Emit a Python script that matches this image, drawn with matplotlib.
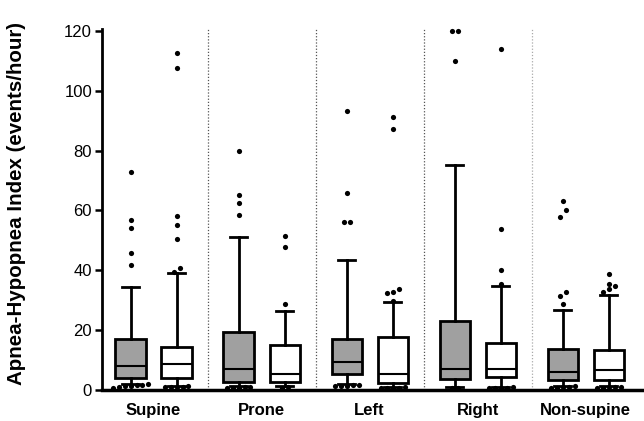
import matplotlib
matplotlib.use("Agg")
import matplotlib.pyplot as plt
from matplotlib import font_manager

categories = ["Supine", "Prone", "Left", "Right", "Non-supine"]

# gray series (first box of each group)
gray_q1 = [4.1, 2.8, 5.2, 3.7, 3.3]
gray_med = [8.0, 7.0, 9.4, 7.0, 5.9]
gray_q3 = [17.0, 19.4, 17.1, 23.2, 13.8]
gray_lo = [2.0, 1.2, 2.0, 1.0, 1.5]
gray_hi = [34.4, 51.2, 43.3, 75.1, 26.7]
gray_fliers = [
    [72.8, 56.9, 54.3, 45.9, 41.8, 1.9, 1.6, 1.3, 1.0, 0.8, 1.2, 1.8],
    [80.0, 65.3, 62.6, 58.6, 0.9, 0.7, 0.6, 0.8, 0.9],
    [93.2, 65.7, 56.1, 56.0, 1.8, 1.5, 1.2, 1.4, 1.7],
    [119.9, 119.8, 109.9, 0.8, 0.6],
    [63.0, 60.0, 57.8, 32.7, 31.4, 28.6, 1.0, 0.8, 0.7, 0.9, 1.2],
]

# white series (second box of each group)
white_q1 = [4.1, 2.8, 2.2, 4.4, 3.3]
white_med = [8.7, 5.2, 5.2, 7.0, 6.6]
white_q3 = [14.4, 15.1, 17.8, 15.8, 13.3]
white_lo = [1.5, 1.5, 1.0, 1.0, 1.5]
white_hi = [39.1, 26.3, 29.3, 34.8, 31.8]
white_fliers = [
    [112.7, 107.6, 58.1, 55.0, 50.3, 40.8, 39.4, 1.1, 1.0, 0.9, 1.2, 1.0],
    [51.3, 47.9, 28.6, 1.0, 0.8],
    [91.1, 87.1, 33.8, 32.6, 32.5, 29.6, 0.8, 0.7, 0.9, 0.6, 0.8],
    [114.1, 53.8, 40.1, 35.4, 0.8, 0.7, 0.9, 0.6, 0.8],
    [38.8, 35.3, 34.9, 33.9, 32.6, 1.0, 0.8, 0.7, 0.9, 1.1],
]

yticks = [0, 20, 40, 60, 80, 100, 120]
ylabel = "Apnea-Hypopnea Index (events/hour)"

names = {f.name for f in font_manager.fontManager.ttflist}
narrow = "Liberation Sans Narrow" if "Liberation Sans Narrow" in names else "Liberation Sans"

fig = plt.figure(figsize=(6.44, 4.21), dpi=100)
ax = fig.add_axes([0.158, 0.0736, 0.842, 0.858])

offset = 0.213
width = 0.28

def stats(q1, med, q3, lo, hi):
    return [dict(q1=a, med=b, q3=c, whislo=d, whishi=e, fliers=[])
            for a, b, c, d, e in zip(q1, med, q3, lo, hi)]

def swarm(center, vals, thresh=2.6, step=0.055):
    v = sorted(vals)
    clusters = []
    for x in v:
        if clusters and x - clusters[-1][0] < thresh:
            clusters[-1].append(x)
        else:
            clusters.append([x])
    xs, ys = [], []
    for c in clusters:
        n = len(c)
        for k, y in enumerate(c):
            xs.append(center + (k - (n - 1) / 2) * step)
            ys.append(y)
    return xs, ys

for pos_off, st, fill, fl in [
    (-offset, stats(gray_q1, gray_med, gray_q3, gray_lo, gray_hi), "#a0a0a0", gray_fliers),
    (offset, stats(white_q1, white_med, white_q3, white_lo, white_hi), "white", white_fliers),
]:
    positions = [i + pos_off for i in range(len(categories))]
    ax.bxp(st, positions=positions, widths=width, patch_artist=True,
           showfliers=False,
           boxprops=dict(facecolor=fill, edgecolor="black", linewidth=2),
           medianprops=dict(color="black", linewidth=1.5),
           whiskerprops=dict(color="black", linewidth=2),
           capprops=dict(color="black", linewidth=2),
           capwidths=width * 0.55, manage_ticks=False)
    for p, f in zip(positions, fl):
        xs, ys = swarm(p, f)
        ax.scatter(xs, ys, s=14, color="black", zorder=5, clip_on=False, linewidths=0)

for i in range(len(categories) - 1):
    ax.plot([i + 0.5, i + 0.5], [0, 120.5], linestyle=(0, (1, 1.5)),
            color="#555555" if i < 3 else "#aaaaaa", linewidth=0.9, zorder=0)

ax.set_xlim(-0.48, 4.54)
ax.set_ylim(0, 120.7)
ax.set_yticks(yticks)
ax.set_yticklabels([str(t) for t in yticks], fontfamily=narrow, fontsize=12)
ax.set_xticks(range(len(categories)))
ax.set_xticklabels(categories, fontfamily="Liberation Sans", fontweight="bold", fontsize=12)
ax.tick_params(axis="x", length=0, pad=9)
ax.tick_params(axis="y", length=5, width=1.8, pad=2)
for s in ["top", "right"]:
    ax.spines[s].set_visible(False)
ax.spines["left"].set_linewidth(2)
ax.spines["left"].set_bounds(0, 120.7)
ax.spines["bottom"].set_linewidth(2.5)
ax.set_ylabel(ylabel, fontfamily="Liberation Sans", fontweight="bold", fontsize=14.8)
ax.yaxis.set_label_coords(-0.14, 0.515)

fig.savefig("out.png", dpi=100)
